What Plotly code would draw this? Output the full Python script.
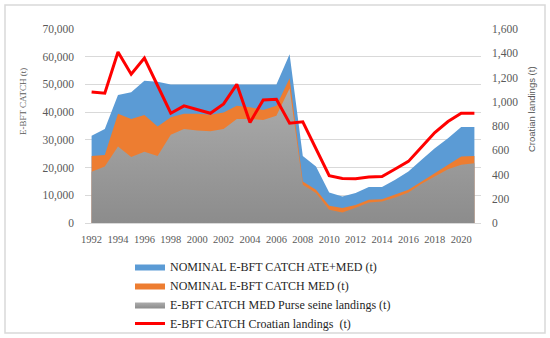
import plotly.graph_objects as go

years = list(range(1992, 2022))
nominal_ate_med = [31500, 33900, 46200, 47200, 51300, 51000, 50000, 50000, 50000, 50000,
                   50000, 50000, 50000, 50000, 50000, 60900, 24200, 20400, 11000, 9600,
                   10800, 13000, 13000, 15600, 18600, 22800, 27000, 30600, 34600, 34600]
nominal_med = [24200, 24500, 39400, 37500, 39000, 34800, 38200, 39400, 39400, 39100,
               39900, 42300, 41800, 40800, 42300, 52200, 15000, 12000, 6200, 5400,
               6500, 8400, 8600, 10200, 12000, 15000, 18000, 21000, 24000, 24200]
purse_seine = [18500, 20400, 27600, 23800, 25700, 24200, 31800, 33900, 33400, 33100,
               33900, 37500, 37500, 37200, 38700, 48500, 13800, 10800, 4800, 3800,
               5500, 7400, 7800, 9200, 11000, 14200, 16800, 19400, 21000, 21600]
croatian = [1081, 1070, 1410, 1227, 1361, 1140, 905, 966, 933, 905,
            982, 1144, 829, 1015, 1021, 823, 834, 609, 390, 368,
            365, 379, 384, 445, 508, 626, 746, 837, 905, 905]
x_ticks = list(range(1992, 2021, 2))

serif = "Liberation Serif, DejaVu Serif, Times New Roman, serif"
grey_txt = "#595959"

fig = go.Figure()
fig.add_trace(go.Scatter(x=years, y=nominal_ate_med, name="NOMINAL E-BFT CATCH ATE+MED (t)",
                         mode="lines", line=dict(width=0, color="#5B9BD5"),
                         fill="tozeroy", fillcolor="#5B9BD5"))
fig.add_trace(go.Scatter(x=years, y=nominal_med, name="NOMINAL E-BFT CATCH MED (t)",
                         mode="lines", line=dict(width=0, color="#ED7D31"),
                         fill="tozeroy", fillcolor="#ED7D31"))
fig.add_trace(go.Scatter(x=years, y=purse_seine, name="E-BFT CATCH MED Purse seine landings (t)",
                         mode="lines", line=dict(width=0, color="#A5A5A5"),
                         fill="tozeroy",
                         fillgradient=dict(type="vertical",
                                           colorscale=[[0, "#8c8c8c"], [1, "#acacac"]])))
fig.add_trace(go.Scatter(x=years, y=croatian, name="E-BFT CATCH Croatian landings  (t)",
                         mode="lines", line=dict(width=3, color="#FF0000"), yaxis="y2"))

L, R, T, B = 85, 481, 29, 223
W, H = R - L, B - T

def px(x):
    return (x - L) / W

def py(y):
    return (B - y) / H

fig.update_layout(
    width=550, height=338,
    margin=dict(l=L, r=550 - R, t=T, b=338 - B, autoexpand=False),
    paper_bgcolor="white", plot_bgcolor="white",
    showlegend=True,
    legend=dict(x=130 / 550, y=1 - 252 / 338, xref="container", yref="container",
                xanchor="left", yanchor="top",
                font=dict(family=serif, size=12, color="#262626"),
                bgcolor="rgba(0,0,0,0)", traceorder="normal"),
    xaxis=dict(range=[1991.5, 2021.5], tickvals=x_ticks, ticktext=[str(v) for v in x_ticks],
               showgrid=False, zeroline=False, showline=True, linecolor="#d9d9d9", linewidth=1,
               ticks="", tickfont=dict(family=serif, size=10.5, color=grey_txt),
               ticklabelstandoff=6, automargin=False),
    yaxis=dict(range=[0, 70000], dtick=10000, tickformat=",", showgrid=True,
               gridcolor="#d9d9d9", gridwidth=1, zeroline=False, showline=False,
               ticks="", tickfont=dict(family=serif, size=11.5, color=grey_txt),
               ticklabelstandoff=10, automargin=False),
    yaxis2=dict(range=[0, 1600], dtick=200, tickformat=",", overlaying="y", side="right",
                showgrid=False, zeroline=False, showline=False, ticks="",
                tickfont=dict(family=serif, size=11.5, color=grey_txt),
                ticklabelstandoff=10, automargin=False),
    annotations=[
        dict(text="E-BFT CATCH (t)", x=px(23), y=py(102), xref="paper", yref="paper",
             textangle=-90, showarrow=False, xanchor="center", yanchor="middle",
             font=dict(family=serif, size=9, color=grey_txt)),
        dict(text="Croatian landings (t)", x=px(531), y=py(109), xref="paper", yref="paper",
             textangle=-90, showarrow=False, xanchor="center", yanchor="middle",
             font=dict(family="Liberation Sans, Arial, sans-serif", size=9.5, color=grey_txt)),
    ],
    shapes=[dict(type="rect", xref="paper", yref="paper",
                 x0=px(5), x1=px(545), y0=py(333), y1=py(5),
                 line=dict(color="#d9d9d9", width=1.5), layer="above")],
)

fig.write_html("out.html", config={"displayModeBar": False},
               post_script="document.body.style.margin='0';document.body.style.overflow='hidden';")
